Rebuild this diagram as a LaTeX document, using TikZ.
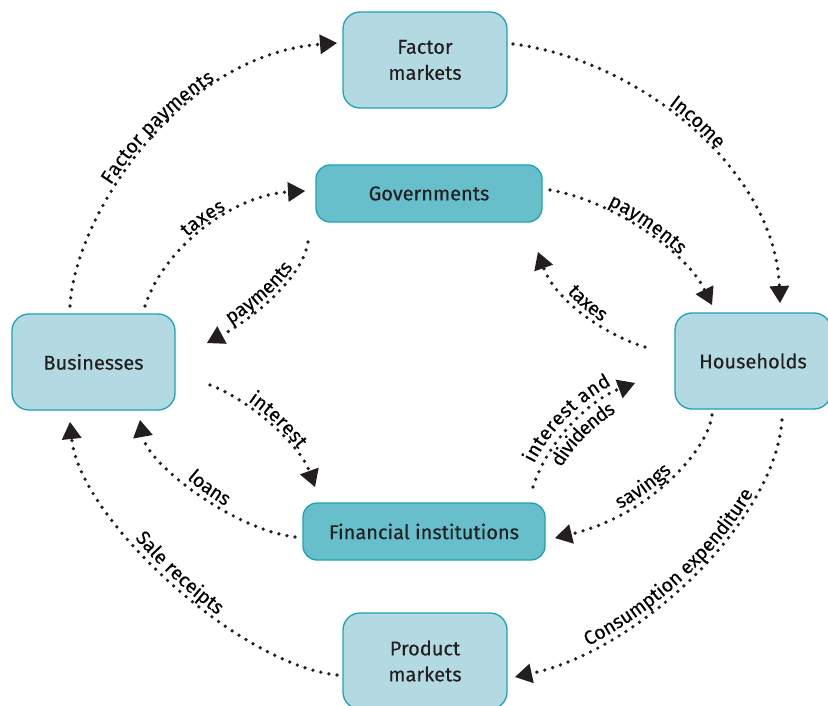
\documentclass[tikz,border=0pt]{standalone}
\usepackage{fontspec}
\setmainfont{Fira Sans}[FakeBold=0.25]
\usetikzlibrary{arrows.meta,decorations.text}
\definecolor{lightbox}{HTML}{B3DAE2}
\definecolor{darkbox}{HTML}{66BFCB}
\definecolor{boxline}{HTML}{1DA2B4}
\definecolor{ink}{HTML}{231F20}
\newcommand\lblfont{\fontsize{19.5}{19.5}\selectfont}
\begin{document}
\begin{tikzpicture}[x=1pt,y=-1pt,
  box/.style={draw=boxline, line width=1.3pt, rounded corners=17pt, text=ink,
    font=\fontsize{20}{26}\selectfont, align=center, inner sep=0pt},
  lightb/.style={box, fill=lightbox, minimum height=96pt},
  darkb/.style={box, fill=darkbox, rounded corners=14pt, minimum height=57pt},
  flow/.style={draw=ink, line width=3.7pt, line cap=round, dash pattern=on 0pt off 8.2pt,
    -{Triangle[length=17pt,width=20pt,line width=0pt]}},
  lbl/.style 2 args={decorate, decoration={text along path, text align=center,
    raise=#1, text={|\lblfont|#2}}}
]
\useasboundingbox (0,0) rectangle (828,706);
\clip (0,0) rectangle (828,706);

% boxes
\node[lightb, minimum width=164pt] (fm) at (425,60) {Factor\\markets};
\node[darkb, minimum width=226pt] (gov) at (429,193.5) {Governments};
\node[lightb, minimum width=163pt] (bus) at (93.5,362) {Businesses};
\node[lightb, minimum width=156pt] (hh) at (753,361) {Households};
\node[darkb, minimum width=242pt] (fin) at (424,531.5) {Financial institutions};
\node[lightb, minimum width=164pt] (pm) at (425,661) {Product\\markets};

% connector end points
\coordinate (fpS) at (70,306);   \coordinate (fpE) at (337,43);
\coordinate (inS) at (513,44);   \coordinate (inE) at (780,303);
\coordinate (ceS) at (782,420);  \coordinate (ceE) at (515,677);
\coordinate (srS) at (337,675);  \coordinate (srE) at (70,422);
\coordinate (t1S) at (145,306);  \coordinate (t1E) at (305,191);
\coordinate (p1S) at (308,242);  \coordinate (p1E) at (207,343);
\coordinate (p2S) at (550,190);  \coordinate (p2E) at (712,305);
\coordinate (t2S) at (645,347);  \coordinate (t2E) at (538,252);
\coordinate (i1S) at (210,385);  \coordinate (i1E) at (315,487);
\coordinate (lnS) at (295,537);  \coordinate (lnE) at (140,420);
\coordinate (idS) at (533,487);  \coordinate (idE) at (635,383);
\coordinate (svS) at (712,415);  \coordinate (svE) at (555,538);

% outer flows
\draw[flow] (fpS) .. controls (75,215) and (180,55) .. (fpE);
\path[lbl={4pt}{Factor payments}] (fpS) .. controls (75,215) and (180,55) .. (fpE);

\draw[flow] (inS) .. controls (640,60) and (775,170) .. (inE);
\path[lbl={4pt}{Income}] (inS) .. controls (640,60) and (775,170) .. (inE);

\draw[flow] (ceS) .. controls (775,520) and (640,650) .. (ceE);
\path[lbl={4pt}{Consumption expenditure}] (ceE) .. controls (640,650) and (775,520) .. (ceS);

\draw[flow] (srS) .. controls (240,665) and (80,520) .. (srE);
\path[lbl={4pt}{Sale receipts}] (srE) .. controls (80,520) and (240,665) .. (srS);

% inner flows
\draw[flow] (t1S) .. controls (165,245) and (235,195) .. (t1E);
\path[lbl={4pt}{taxes}] (t1S) .. controls (165,245) and (235,195) .. (t1E);

\draw[flow] (p1S) .. controls (302,280) and (250,320) .. (p1E);
\path[lbl={4pt}{payments}] (p1E) .. controls (250,320) and (302,280) .. (p1S);

\draw[flow] (p2S) .. controls (610,200) and (685,250) .. (p2E);
\path[lbl={4pt}{payments}] (p2S) .. controls (610,200) and (685,250) .. (p2E);

\draw[flow] (t2S) .. controls (605,335) and (555,300) .. (t2E);
\path[lbl={4pt}{taxes}] (t2E) .. controls (555,300) and (605,335) .. (t2S);

\draw[flow] (i1S) .. controls (250,400) and (300,445) .. (i1E);
\path[lbl={4pt}{interest}] (i1S) .. controls (250,400) and (300,445) .. (i1E);

\draw[flow] (lnS) .. controls (235,530) and (148,465) .. (lnE);
\path[lbl={4pt}{loans}] (lnE) .. controls (148,465) and (235,530) .. (lnS);

\draw[flow] (idS) .. controls (548,440) and (590,400) .. (idE);
\path[lbl={8pt}{interest and}] (idS) .. controls (548,440) and (590,400) .. (idE);
\path[lbl={-18pt}{dividends}] (idS) .. controls (548,440) and (590,400) .. (idE);

\draw[flow] (svS) .. controls (708,450) and (650,515) .. (svE);
\path[lbl={4pt}{savings}] (svE) .. controls (650,515) and (708,450) .. (svS);
\end{tikzpicture}
\end{document}
